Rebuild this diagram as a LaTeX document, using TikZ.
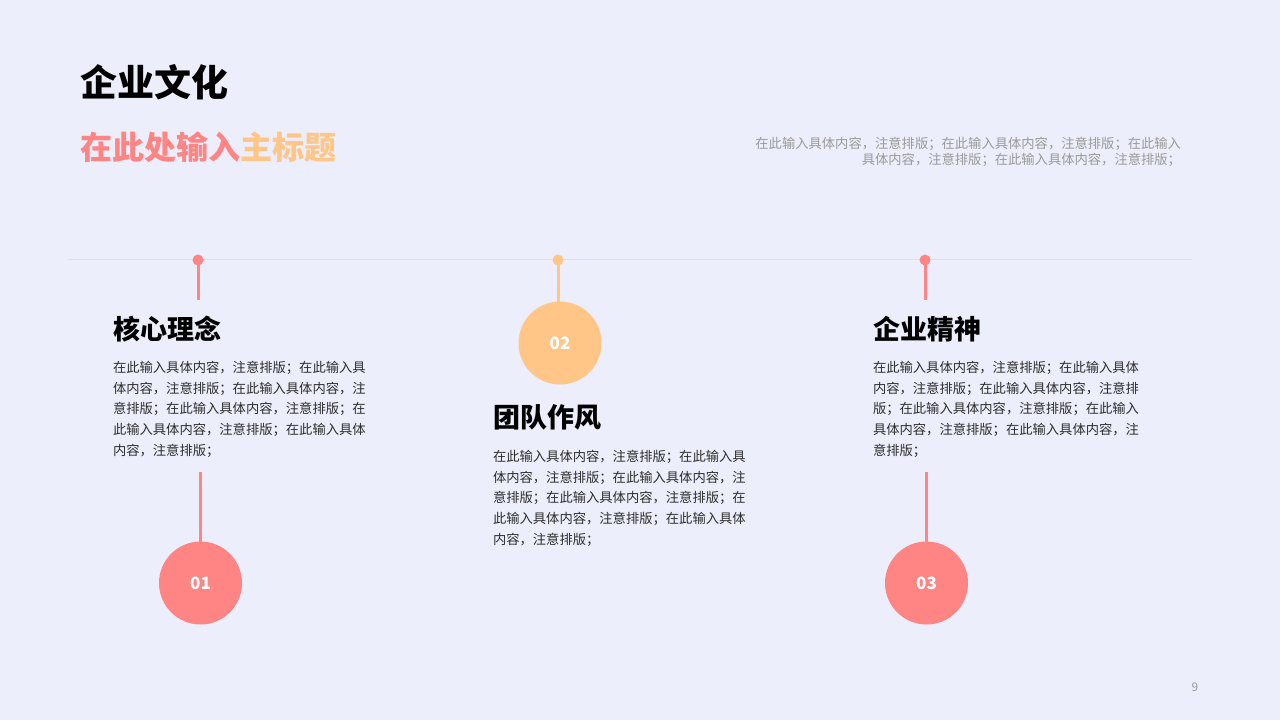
\documentclass[tikz,border=0pt]{standalone}
\usepackage{fontspec}
\setmainfont{Noto Sans CJK SC}
\definecolor{bgc}{HTML}{ECEEFB}
\definecolor{pinkc}{HTML}{FF8484}
\definecolor{orangec}{HTML}{FFC688}
\definecolor{rulec}{HTML}{DCDFF1}
\definecolor{bodyc}{HTML}{2E2E2E}
\definecolor{grayc}{HTML}{9A9A9A}
\begin{document}
\begin{tikzpicture}[x=1pt,y=-1pt,
  every node/.style={inner sep=0pt,outer sep=0pt},
  bigtitle/.style={font=\fontsize{37}{40}\selectfont\bfseries,anchor=base west},
  subtitle/.style={font=\fontsize{32}{36}\selectfont\bfseries,anchor=base west},
  heading/.style={font=\fontsize{27}{30}\selectfont\bfseries,anchor=base west,text=black},
  body/.style={font=\fontsize{13.3}{20.8}\selectfont,align=left,anchor=north west,text=bodyc},
  note/.style={font=\fontsize{13.3}{16}\selectfont,align=right,anchor=north east,text=grayc},
  dot/.style={circle,minimum size=11pt,fill=#1},
  pin/.style={draw=#1,line width=3pt},
  bigcircle/.style={circle,minimum size=83pt,fill=#1,text=white,font=\fontsize{17}{20}\selectfont\bfseries},
]
\fill[bgc] (0,0) rectangle (1280,720);
\useasboundingbox (0,0) rectangle (1280,720);

% titles
\node[bigtitle] (title) at (80,96) {企业文化};
\node[subtitle] (sub) at (80,159) {\textcolor{pinkc}{在此处输入}\textcolor{orangec}{主标题}};
\node[note] (note) at (1181,137) {在此输入具体内容，注意排版；在此输入具体内容，注意排版；在此输入\\具体内容，注意排版；在此输入具体内容，注意排版；};

% timeline rule
\coordinate (ruleL) at (68,259);
\coordinate (ruleR) at (1192,259);
\draw[rulec,line width=1pt] (ruleL) -- (ruleR);

% column 1
\node[dot=pinkc] (d1) at (198,260) {};
\coordinate (p1) at (198,300);
\draw[pin=pinkc] (d1.center) -- (p1);
\node[heading] (h1) at (113,339.5) {核心理念};
\node[body] (b1) at (113,361) {在此输入具体内容，注意排版；在此输入具\\体内容，注意排版；在此输入具体内容，注\\意排版；在此输入具体内容，注意排版；在\\此输入具体内容，注意排版；在此输入具体\\内容，注意排版；};
\node[bigcircle=pinkc] (c1) at (200.5,583) {01};
\coordinate (q1) at (200.5,472);
\draw[pin=pinkc] (q1) -- (c1.north);

% column 2
\node[dot=orangec] (d2) at (558,260) {};
\node[bigcircle=orangec] (c2) at (560,343) {02};
\draw[pin=orangec] (d2.center) -- (d2.center |- c2.north);
\node[heading] (h2) at (493,427.5) {团队作风};
\node[body] (b2) at (493,450) {在此输入具体内容，注意排版；在此输入具\\体内容，注意排版；在此输入具体内容，注\\意排版；在此输入具体内容，注意排版；在\\此输入具体内容，注意排版；在此输入具体\\内容，注意排版；};

% column 3
\node[dot=pinkc] (d3) at (925,260) {};
\coordinate (p3) at (925,300);
\draw[pin=pinkc] (d3.center) -- (p3);
\node[heading] (h3) at (873,339.5) {企业精神};
\node[body] (b3) at (873,361) {在此输入具体内容，注意排版；在此输入具体\\内容，注意排版；在此输入具体内容，注意排\\版；在此输入具体内容，注意排版；在此输入\\具体内容，注意排版；在此输入具体内容，注\\意排版；};
\node[bigcircle=pinkc] (c3) at (926.5,583) {03};
\coordinate (q3) at (926.5,472);
\draw[pin=pinkc] (q3) -- (c3.north);

% page number
\node[font=\fontsize{12}{14}\selectfont,text=grayc] (pg) at (1195,687) {9};
\end{tikzpicture}
\end{document}
